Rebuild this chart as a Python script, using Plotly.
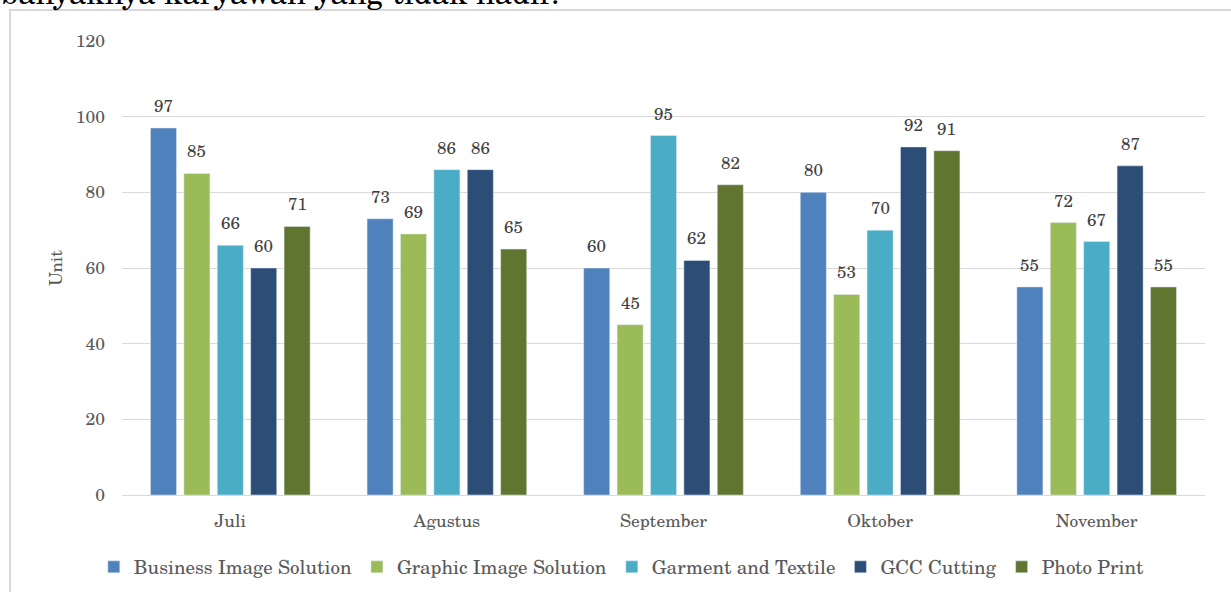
import plotly.graph_objects as go

months = ["Juli", "Agustus", "September", "Oktober", "November"]
business = [97, 73, 60, 80, 55]
graphic = [85, 69, 45, 53, 72]
garment = [66, 86, 95, 70, 67]
gcc = [60, 86, 62, 92, 87]
photo = [71, 65, 82, 91, 55]

series = [
    ("Business Image Solution", business, "#4F81BD"),
    ("Graphic Image Solution", graphic, "#9BBB59"),
    ("Garment and Textile", garment, "#4BACC6"),
    ("GCC Cutting", gcc, "#2C4D75"),
    ("Photo Print", photo, "#5F7530"),
]

FONT = "Century Schoolbook, TeX Gyre Schola, C059, DejaVu Serif, serif"
W, H = 1231, 592
L, R, T, B = 122, 26, 41, 97
pw, ph = W - L - R, H - T - B
BARGAP, GROUPGAP = 0.229, 0.22
slot = pw / len(months) * (1 - BARGAP) / len(series)

def px(x):
    return (x - L) / pw

def py(y):
    return (H - B - y) / ph

fig = go.Figure()
for i, (name, vals, col) in enumerate(series):
    fig.add_trace(go.Bar(x=months, y=vals, name=name, marker_color=col))
    for m, v in zip(months, vals):
        fig.add_annotation(x=m, y=v, text=str(v), showarrow=False,
                           xshift=(i - (len(series) - 1) / 2) * slot, yshift=22.5,
                           yanchor="middle", xanchor="center",
                           font=dict(family=FONT, size=17, color="#404040"))

fig.update_layout(
    width=W, height=H,
    margin=dict(l=L, r=R, t=T, b=B, autoexpand=False),
    paper_bgcolor="white", plot_bgcolor="white",
    barmode="group", bargap=BARGAP, bargroupgap=GROUPGAP,
    font=dict(family=FONT, size=17, color="#595959"),
    xaxis=dict(showgrid=False, showline=True, linecolor="#D9D9D9", linewidth=1,
               ticks="", ticklabelstandoff=10, tickfont=dict(size=17.5, color="#595959")),
    yaxis=dict(range=[0, 120], dtick=20, showgrid=True, gridcolor="#D9D9D9",
               zeroline=False, ticks="", ticklabelstandoff=16,
               tickfont=dict(size=17.5, color="#595959"),
               title=dict(text="Unit", font=dict(size=17, color="#595959"), standoff=8)),
    legend=dict(orientation="h", x=0.4615, xanchor="center",
                yref="container", y=1 - 567 / H, yanchor="middle",
                font=dict(size=19, color="#595959"), itemwidth=30,
                traceorder="normal", itemclick=False),
    showlegend=True,
)

fig.add_shape(type="rect", xref="paper", yref="paper",
              x0=px(10), x1=px(1240), y0=py(600), y1=py(10),
              line=dict(color="#D9D9D9", width=2), fillcolor="rgba(0,0,0,0)", layer="below")

fig.add_annotation(text="banyaknya karyawan yang tidak hadir.", xref="paper", yref="paper",
                   x=px(-1), y=py(-9), xanchor="left", yanchor="middle", showarrow=False,
                   font=dict(family=FONT, size=31, color="#000000"))

fig.write_html("out.html")
